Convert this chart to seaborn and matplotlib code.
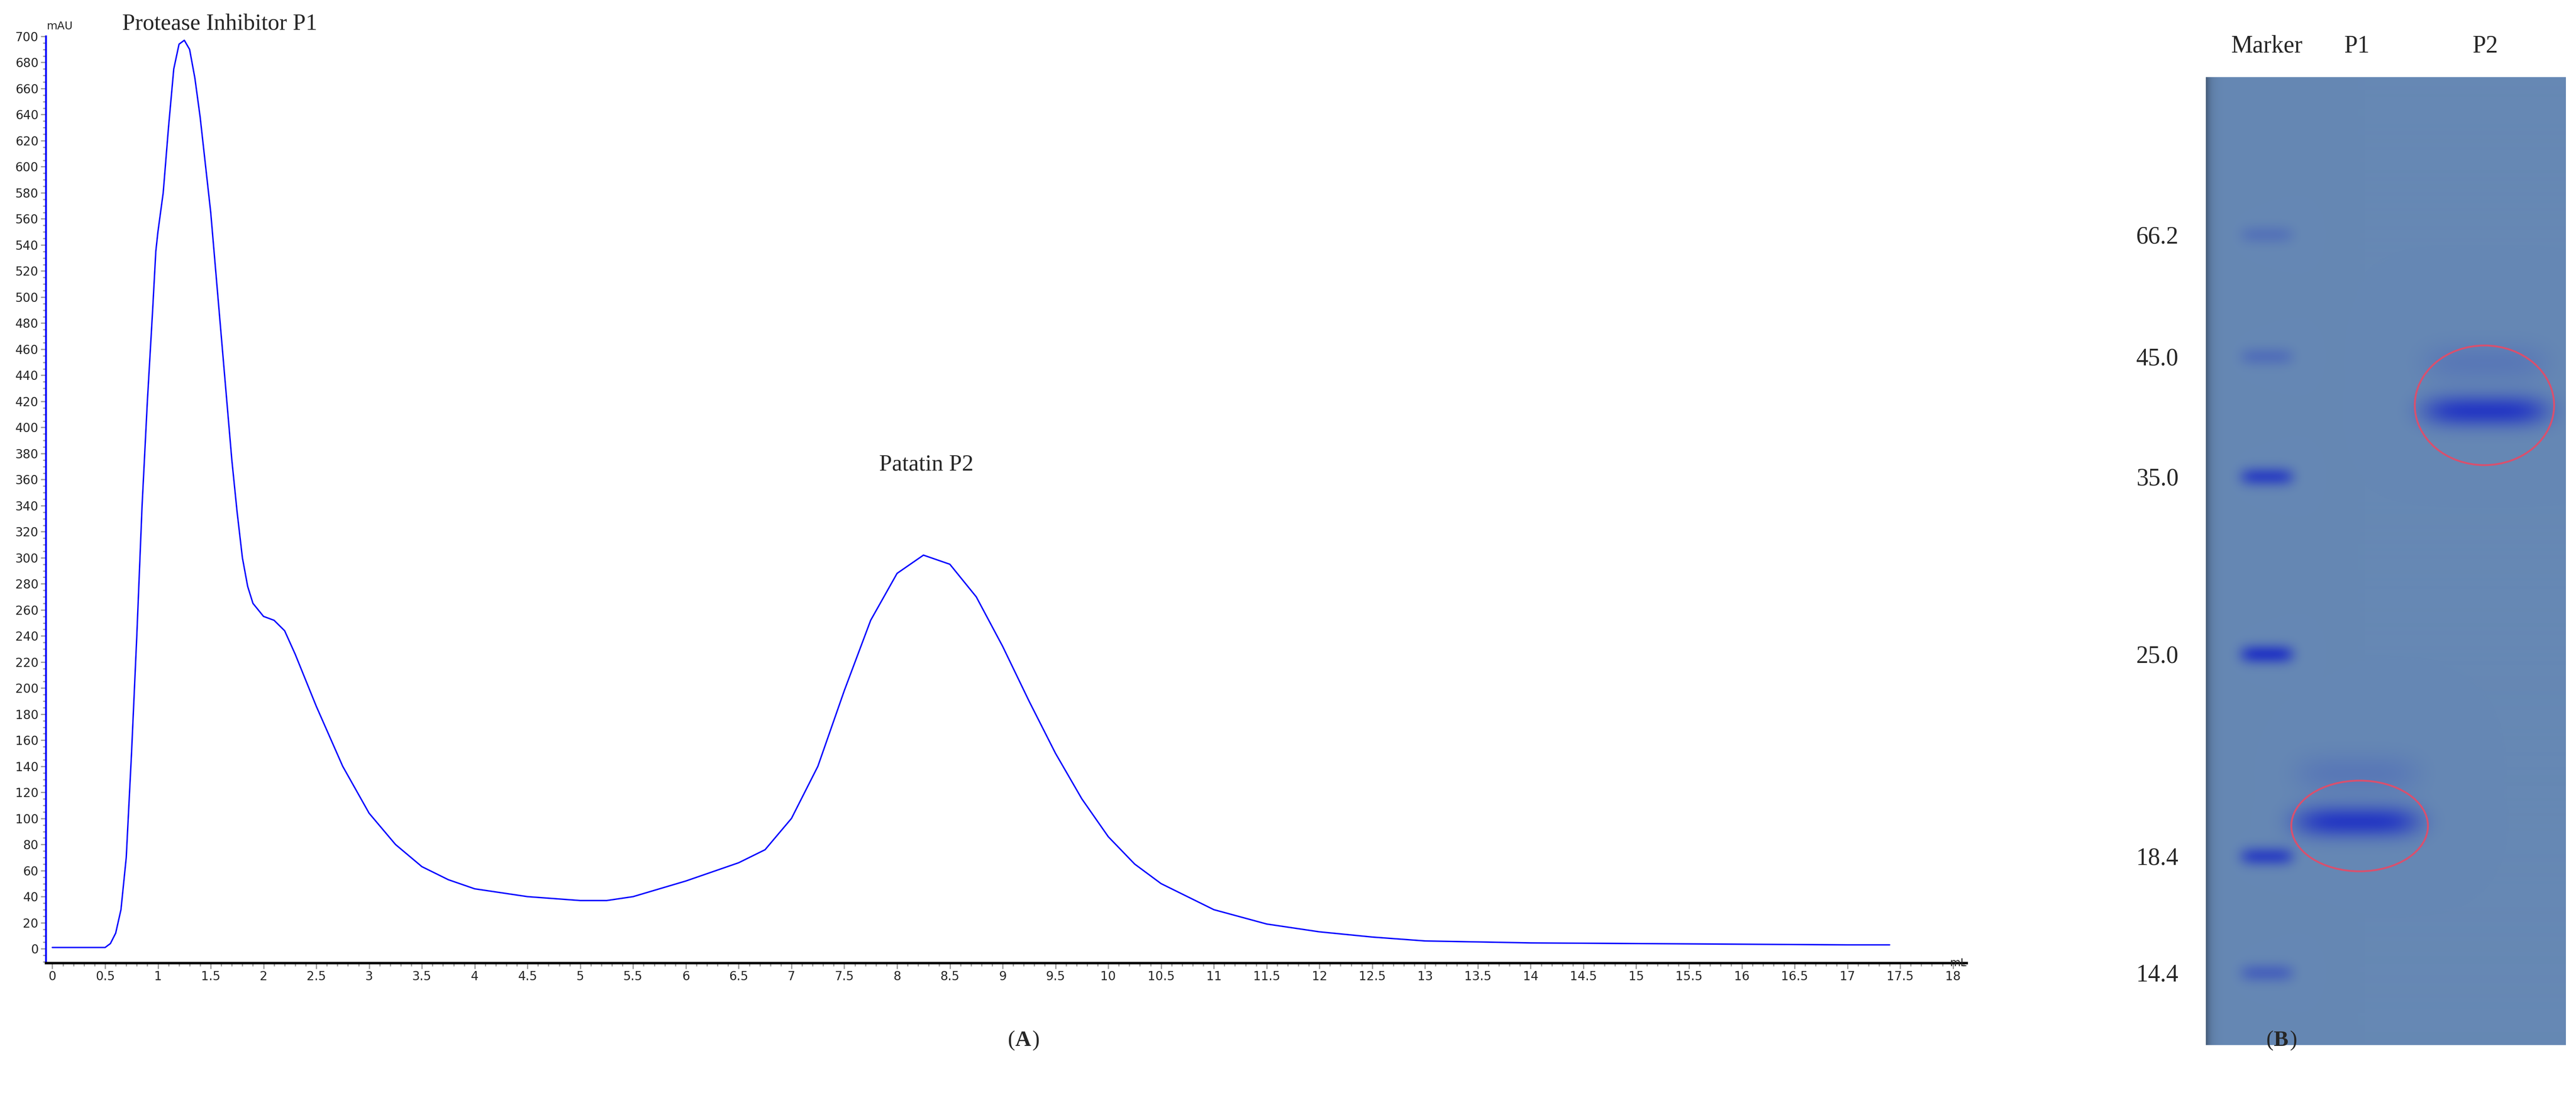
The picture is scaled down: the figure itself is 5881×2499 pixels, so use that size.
import numpy as np
import pandas as pd
import matplotlib
matplotlib.use("Agg")
import matplotlib.pyplot as plt
from matplotlib.patches import Ellipse
from matplotlib.ticker import MultipleLocator
import seaborn as sns

# ---- chromatogram data ----
volume_ml = [0, 0.25, 0.5, 0.55, 0.6, 0.65, 0.7, 0.75, 0.8, 0.85, 0.9, 0.95, 0.98, 1.0, 1.05, 1.1, 1.15, 1.2,
             1.25, 1.3, 1.35, 1.4, 1.5, 1.6, 1.7, 1.75, 1.8, 1.85, 1.9, 2.0, 2.1, 2.2, 2.3, 2.4, 2.5, 2.75, 3.0, 3.25,
             3.5, 3.75, 4.0, 4.5, 5.0, 5.25, 5.5, 6.0, 6.5, 6.75, 7.0, 7.25, 7.5, 7.75, 8.0, 8.25,
             8.5, 8.75, 9.0, 9.25, 9.5, 9.75, 10.0, 10.25, 10.5, 11.0, 11.5, 12.0, 12.5, 13.0, 14.0, 15.0,
             16.0, 17.0, 17.4]
absorb_mau = [1, 1, 1, 4, 12, 30, 70, 150, 240, 340, 420, 490, 535, 550, 580, 630, 675, 694,
              697, 690, 668, 638, 565, 470, 375, 335, 300, 278, 265, 255, 252, 244, 226, 206, 186, 140, 104, 80,
              63, 53, 46, 40, 37, 37, 40, 52, 66, 76, 100, 140, 198, 252, 288, 302,
              295, 270, 232, 190, 150, 115, 86, 65, 50, 30, 19, 13, 9, 6, 4.5, 4,
              3.5, 3, 3]

# ---- gel data ----
marker_kda = ["66.2", "45.0", "35.0", "25.0", "18.4", "14.4"]
marker_pos = [536, 814, 1088, 1493, 1954, 2220]
marker_int = [0.25, 0.3, 0.85, 1.0, 0.85, 0.45]
lane_names = ["Marker", "P1", "P2"]
lane_x = [5175, 5381, 5674]
sample_pos = [1875, 938]
sample_int = [1.0, 1.0]

W, H = 5881, 2499
fig = plt.figure(figsize=(W / 100, H / 100), dpi=100)
sns.set_style("white")

# ---------- panel A ----------
ax = fig.add_axes([105 / W, 1 - 2198 / H, (4490 - 105) / W, (2198 - 83) / H])
df = pd.DataFrame({"mL": volume_ml, "mAU": absorb_mau})
sns.lineplot(data=df, x="mL", y="mAU", ax=ax, color="#0000ff", lw=2.3)
ax.set_xlim(-0.06, 18.13)
ax.set_ylim(-11, 700)
ax.set_xlabel("")
ax.set_ylabel("")
for s in ["top", "right"]:
    ax.spines[s].set_visible(False)
ax.spines["left"].set_color("#0000ff")
ax.spines["left"].set_linewidth(3)
ax.spines["bottom"].set_color("black")
ax.spines["bottom"].set_linewidth(4)
ax.xaxis.set_minor_locator(MultipleLocator(0.1))
ax.yaxis.set_minor_locator(MultipleLocator(5))
ax.set_xticks(np.arange(0, 18.01, 0.5))
ax.set_xticklabels([f"{v:g}" for v in np.arange(0, 18.01, 0.5)])
ax.set_yticks(np.arange(0, 701, 20))
narrow = ["Liberation Sans Narrow", "DejaVu Sans"]
ax.tick_params(axis="both", which="major", length=9, width=2, color="#999999",
               labelsize=20, direction="out", bottom=True, left=True)
ax.tick_params(axis="both", which="minor", length=5, width=2, color="#999999",
               bottom=True, left=True)
for lab in ax.get_xticklabels() + ax.get_yticklabels():
    lab.set_family(narrow)
ax.text(0.0005, 1.005, "mAU", transform=ax.transAxes, fontsize=18, family=narrow,
        ha="left", va="bottom")
ax.text(18.13, -11, "mL", fontsize=18, family=narrow, ha="right", va="center")
serif = ["Liberation Serif", "DejaVu Serif"]
fig.text(279 / W, 1 - 55 / H, "Protease Inhibitor P1", fontsize=38, family=serif,
         ha="left", va="center")
fig.text(2115 / W, 1 - 1060 / H, "Patatin P2", fontsize=38, family=serif,
         ha="center", va="center")
fig.text(2317 / W, 1 - 2375 / H, "(", fontsize=36, family=serif, ha="right", va="center")
fig.text(2317 / W, 1 - 2375 / H, "A", fontsize=36, family=serif, weight="bold", ha="left", va="center")
fig.text(2356 / W, 1 - 2375 / H, ")", fontsize=36, family=serif, ha="left", va="center")
fig.text(5190 / W, 1 - 2375 / H, "(", fontsize=36, family=serif, ha="right", va="center")
fig.text(5190 / W, 1 - 2375 / H, "B", fontsize=36, family=serif, weight="bold", ha="left", va="center")
fig.text(5227 / W, 1 - 2375 / H, ")", fontsize=36, family=serif, ha="left", va="center")

# ---------- panel B (gel) ----------
gx0, gx1, gy0, gy1 = 5036, 5858, 176, 2385
gax = fig.add_axes([gx0 / W, 1 - gy1 / H, (gx1 - gx0) / W, (gy1 - gy0) / H])
xs = np.arange(gx0, gx1)
ys = np.arange(gy0, gy1)
X, Y = np.meshgrid(xs, ys)
bg = np.array([102, 136, 180]) / 255.0
band = np.array([38, 58, 195]) / 255.0
dens = np.zeros_like(X, dtype=float)
for p, inten in zip(marker_pos, marker_int):
    dens += inten * np.exp(-((X - lane_x[0]) / 60) ** 4 - ((Y - p) / 22) ** 2)
for lx, p, inten in zip(lane_x[1:], sample_pos, sample_int):
    dens += inten * np.exp(-((X - lx) / 140) ** 4 - ((Y - p) / 36) ** 2)
    dens += 0.2 * inten * np.exp(-((X - lx) / 140) ** 4 - ((Y - p + 110) / 45) ** 2)
dens = np.clip(dens, 0, 1)
shade = 1 - 0.35 * np.exp(-(X - gx0) / 10)
img = (bg[None, None, :] * (1 - dens[..., None]) + band[None, None, :] * dens[..., None])
img = img * shade[..., None]
gax.imshow(img, extent=(gx0, gx1, gy1, gy0), aspect="auto", interpolation="bilinear")
gax.set_xlim(gx0, gx1)
gax.set_ylim(gy1, gy0)
for s in gax.spines.values():
    s.set_visible(False)
gax.set_yticks(marker_pos)
gax.set_yticklabels(marker_kda, family=serif, fontsize=40)
gax.tick_params(axis="y", length=0, pad=45)
gax.set_xticks([])
for lx, name in zip(lane_x, lane_names):
    gax.text(lx, gy0 - 70, name, fontsize=40, family=serif, ha="center", va="center",
             clip_on=False)
gax.add_patch(Ellipse((5387, 1885), 312, 207, fill=False, ec="#d8506e", lw=3))
gax.add_patch(Ellipse((5672, 925), 318, 273, fill=False, ec="#d8506e", lw=3, clip_on=True))

fig.savefig("out.png", dpi=100)
